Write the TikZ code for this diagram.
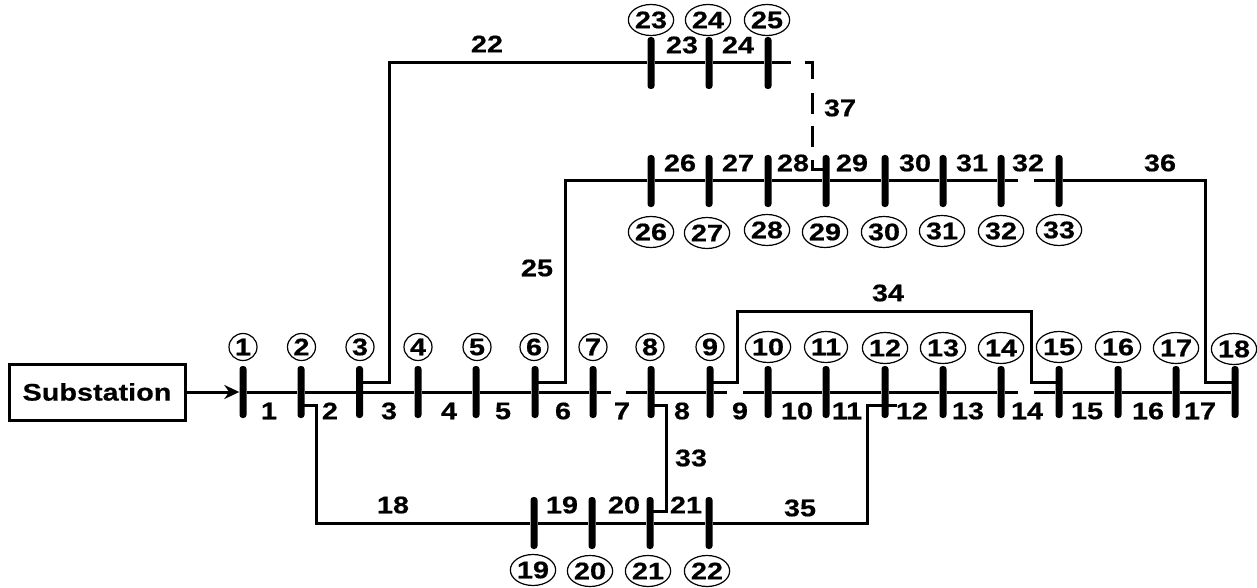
\documentclass[tikz,border=0pt]{standalone}
\usepackage{fontspec}
\setmainfont[FakeStretch=1.2,BoldFeatures={FakeBold=0.5}]{Liberation Sans}
\usetikzlibrary{arrows.meta,shapes.geometric}
\tikzset{
  busbar/.style={rectangle, fill=black, rounded corners=3pt, inner sep=0pt, minimum width=7pt, minimum height=52pt},
  feeder/.style={line width=3pt, line join=miter},
  numa/.style={ellipse, draw, line width=1.2pt, inner sep=0pt, minimum width=28pt, minimum height=27pt, font=\fontsize{24}{24}\selectfont\bfseries},
  numb/.style={ellipse, draw, line width=1.2pt, inner sep=0pt, minimum width=42pt, minimum height=31pt, font=\fontsize{24}{24}\selectfont\bfseries},
  brlabel/.style={inner sep=0pt, font=\fontsize{24}{24}\selectfont\bfseries},
}
\begin{document}
\begin{tikzpicture}[x=1pt,y=-1pt]
\useasboundingbox (0,0) rectangle (1257,588);
\node[rectangle, draw, line width=3pt, minimum width=176pt, minimum height=56pt, inner sep=0pt, font=\fontsize{24}{24}\selectfont\bfseries] (sub) at (97,392){Substation};
% main row
\node[busbar] (bus1) at (243,392){};
\node[busbar] (bus2) at (301,392){};
\node[busbar] (bus3) at (359.5,392){};
\node[busbar] (bus4) at (418,392){};
\node[busbar] (bus5) at (476,392){};
\node[busbar] (bus6) at (535,392){};
\node[busbar] (bus7) at (593,392){};
\node[busbar] (bus8) at (651,392){};
\node[busbar] (bus9) at (710,392){};
\node[busbar] (bus10) at (768,392){};
\node[busbar] (bus11) at (826,392){};
\node[busbar] (bus12) at (885,392){};
\node[busbar] (bus13) at (943,392){};
\node[busbar] (bus14) at (1001,392){};
\node[busbar] (bus15) at (1059,392){};
\node[busbar] (bus16) at (1118,392){};
\node[busbar] (bus17) at (1176,392){};
\node[busbar] (bus18) at (1235,392){};
% bottom row
\node[busbar] (bus19) at (534,523){};
\node[busbar] (bus20) at (592,523){};
\node[busbar] (bus21) at (650,523){};
\node[busbar] (bus22) at (709,523){};
% top row
\node[busbar] (bus23) at (651,63){};
\node[busbar] (bus24) at (709,63){};
\node[busbar] (bus25) at (768,63){};
% second row
\node[busbar] (bus26) at (651,181){};
\node[busbar] (bus27) at (709,181){};
\node[busbar] (bus28) at (768,181){};
\node[busbar] (bus29) at (826,181){};
\node[busbar] (bus30) at (885,181){};
\node[busbar] (bus31) at (943,181){};
\node[busbar] (bus32) at (1001,181){};
\node[busbar] (bus33) at (1059,181){};
% corners and open ends
\coordinate (gap7a) at (611,392);
\coordinate (gap7b) at (626,392);
\coordinate (gap9a) at (727,392);
\coordinate (gap9b) at (743,392);
\coordinate (gap14a) at (1018,392);
\coordinate (gap14b) at (1034,392);
\coordinate (gap25) at (791,63);
\coordinate (gap32a) at (1018,181);
\coordinate (gap32b) at (1034,181);
\coordinate (cor18) at (316.5,523);
\coordinate (cor22) at (389,63);
\coordinate (cor25) at (565,181);
\coordinate (cor33) at (666,511);
\coordinate (cor34a) at (737.5,311);
\coordinate (cor34b) at (1031,311);
\coordinate (cor35) at (867,523);
\coordinate (cor36) at (1205,181);
\coordinate (cor37a) at (805,63);
\coordinate (cor37b) at (812.5,63);
\coordinate (cor37c) at (812.5,170);
% connectors
\draw[feeder, -{Stealth[length=15pt,width=14pt]}](sub) -- (bus1);
\draw[feeder](bus1) -- (bus2) -- (bus3) -- (bus4) -- (bus5) -- (bus6) -- (bus7) -- (gap7a);
\draw[feeder](gap7b) -- (bus8) -- (bus9) -- (gap9a);
\draw[feeder](gap9b) -- (bus10) -- (bus11) -- (bus12) -- (bus13) -- (bus14) -- (gap14a);
\draw[feeder](gap14b) -- (bus15) -- (bus16) -- (bus17) -- (bus18);
\draw[feeder]([yshift=-13pt]bus2.center) -| (cor18) -- (bus19) -- (bus20) -- (bus21) -- (bus22) -- (cor35) |- ([xshift=12pt,yshift=-13pt]bus12.center);
\draw[feeder]([yshift=10pt]bus3.center) -| (cor22) -- (bus23) -- (bus24) -- (bus25) -- (gap25);
\draw[feeder]([yshift=10pt]bus6.center) -| (cor25) -- (bus26) -- (bus27) -- (bus28) -- (bus29) -- (bus30) -- (bus31) -- (bus32) -- (gap32a);
\draw[feeder](gap32b) -- (bus33) -- (cor36) |- ([yshift=10pt]bus18.center);
\draw[feeder]([yshift=-13pt]bus8.center) -| (cor33) -- ([yshift=12pt]bus21.center);
\draw[feeder]([yshift=10pt]bus9.center) -| (cor34a) -- (cor34b) |- ([yshift=10pt]bus15.center);
\draw[feeder, dash pattern=on 23.5pt off 14pt on 21pt off 12pt on 21pt off 13pt on 24pt off 30pt](cor37a) -- (cor37b) -- (cor37c) -- ([yshift=11pt]bus29.center);
% bus numbers
\node[numa] (no1) at (243,347){1};
\node[numa] (no2) at (301.5,347){2};
\node[numa] (no3) at (360,347){3};
\node[numa] (no4) at (418,347){4};
\node[numa] (no5) at (477,347){5};
\node[numa] (no6) at (534,347){6};
\node[numa] (no7) at (593,347){7};
\node[numa] (no8) at (650,347){8};
\node[numa] (no9) at (710,347){9};
\node[numb] (no10) at (768,347){10};
\node[numb] (no11) at (826,347){11};
\node[numb] (no12) at (885,348){12};
\node[numb] (no13) at (943,348){13};
\node[numb] (no14) at (1001,348){14};
\node[numb] (no15) at (1059,347){15};
\node[numb] (no16) at (1118,347){16};
\node[numb] (no17) at (1176,348){17};
\node[numb] (no18) at (1234,349){18};
\node[numb] (no19) at (533,570){19};
\node[numb] (no20) at (590,571){20};
\node[numb] (no21) at (648,571){21};
\node[numb] (no22) at (707,571){22};
\node[numb] (no23) at (651,20){23};
\node[numb] (no24) at (708,20){24};
\node[numb] (no25) at (767,20){25};
\node[numb] (no26) at (651,232){26};
\node[numb] (no27) at (707,233){27};
\node[numb] (no28) at (767,230){28};
\node[numb] (no29) at (825,232){29};
\node[numb] (no30) at (884,232){30};
\node[numb] (no31) at (942,231){31};
\node[numb] (no32) at (1001,231){32};
\node[numb] (no33) at (1059,230){33};
% branch numbers
\node[brlabel] (br1) at (269,411){1};
\node[brlabel] (br2) at (330,411){2};
\node[brlabel] (br3) at (389,411){3};
\node[brlabel] (br4) at (449,411){4};
\node[brlabel] (br5) at (503,411){5};
\node[brlabel] (br6) at (563,411){6};
\node[brlabel] (br7) at (622,411){7};
\node[brlabel] (br8) at (682,411){8};
\node[brlabel] (br9) at (740,411){9};
\node[brlabel] (br10) at (797,411){10};
\node[brlabel] (br11) at (847,411){11};
\node[brlabel] (br12) at (912,411){12};
\node[brlabel] (br13) at (968,411){13};
\node[brlabel] (br14) at (1027,411){14};
\node[brlabel] (br15) at (1087,411){15};
\node[brlabel] (br16) at (1148,411){16};
\node[brlabel] (br17) at (1200,411){17};
\node[brlabel] (br18) at (393,505){18};
\node[brlabel] (br19) at (562,505){19};
\node[brlabel] (br20) at (624,505){20};
\node[brlabel] (br21) at (686,505){21};
\node[brlabel] (br22) at (487,44){22};
\node[brlabel] (br23) at (682,45){23};
\node[brlabel] (br24) at (738,45){24};
\node[brlabel] (br25) at (537,268){25};
\node[brlabel] (br26) at (680,163){26};
\node[brlabel] (br27) at (738,163){27};
\node[brlabel] (br28) at (793,163){28};
\node[brlabel] (br29) at (852,163){29};
\node[brlabel] (br30) at (915,163){30};
\node[brlabel] (br31) at (972,163){31};
\node[brlabel] (br32) at (1028,163){32};
\node[brlabel] (br33) at (691,458){33};
\node[brlabel] (br34) at (888,293){34};
\node[brlabel] (br35) at (800,508){35};
\node[brlabel] (br36) at (1160,163){36};
\node[brlabel] (br37) at (840,108){37};
\end{tikzpicture}
\end{document}
